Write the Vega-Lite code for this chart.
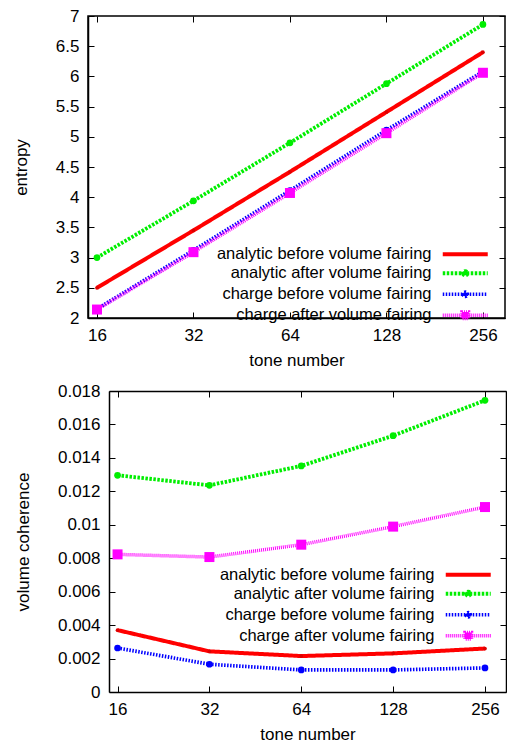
{
  "$schema": "https://vega.github.io/schema/vega-lite/v6.json",
  "padding": {"left": 11, "top": 6, "right": 0, "bottom": 0},
  "background": "white",
  "spacing": 13,
  "config": {
    "font": "Liberation Sans",
    "view": {"stroke": "#000", "strokeWidth": 1.5},
    "axis": {"grid": false, "labelFontSize": 17, "titleFontSize": 17, "titleFontWeight": "normal", "labelColor": "#000", "titleColor": "#000", "domainColor": "#000", "domainWidth": 1.5, "tickColor": "#000", "tickWidth": 1, "tickSize": -6, "labelPadding": 15, "labelFlush": false, "labelOverlap": false},
    "axisX": {"titlePadding": 9},
    "axisY": {"titlePadding": 25},
    "legend": {"labelFont": "Liberation Sans", "labelFontSize": 16.5, "labelColor": "#000"}
  },
  "datasets": {
    "entropy": [
      {"tone": 16, "series": "analytic before volume fairing", "value": 2.50},
      {"tone": 32, "series": "analytic before volume fairing", "value": 3.45},
      {"tone": 64, "series": "analytic before volume fairing", "value": 4.42},
      {"tone": 128, "series": "analytic before volume fairing", "value": 5.41},
      {"tone": 256, "series": "analytic before volume fairing", "value": 6.40},
      {"tone": 16, "series": "analytic after volume fairing", "value": 3.00},
      {"tone": 32, "series": "analytic after volume fairing", "value": 3.94},
      {"tone": 64, "series": "analytic after volume fairing", "value": 4.90},
      {"tone": 128, "series": "analytic after volume fairing", "value": 5.88},
      {"tone": 256, "series": "analytic after volume fairing", "value": 6.86},
      {"tone": 16, "series": "charge before volume fairing", "value": 2.15},
      {"tone": 32, "series": "charge before volume fairing", "value": 3.12},
      {"tone": 64, "series": "charge before volume fairing", "value": 4.11},
      {"tone": 128, "series": "charge before volume fairing", "value": 5.11},
      {"tone": 256, "series": "charge before volume fairing", "value": 6.08},
      {"tone": 16, "series": "charge after volume fairing", "value": 2.14},
      {"tone": 32, "series": "charge after volume fairing", "value": 3.09},
      {"tone": 64, "series": "charge after volume fairing", "value": 4.07},
      {"tone": 128, "series": "charge after volume fairing", "value": 5.06},
      {"tone": 256, "series": "charge after volume fairing", "value": 6.06}
    ],
    "coherence": [
      {"tone": 16, "series": "analytic before volume fairing", "value": 0.0037},
      {"tone": 32, "series": "analytic before volume fairing", "value": 0.00243},
      {"tone": 64, "series": "analytic before volume fairing", "value": 0.00215},
      {"tone": 128, "series": "analytic before volume fairing", "value": 0.00231},
      {"tone": 256, "series": "analytic before volume fairing", "value": 0.0026},
      {"tone": 16, "series": "analytic after volume fairing", "value": 0.01296},
      {"tone": 32, "series": "analytic after volume fairing", "value": 0.01236},
      {"tone": 64, "series": "analytic after volume fairing", "value": 0.01352},
      {"tone": 128, "series": "analytic after volume fairing", "value": 0.01533},
      {"tone": 256, "series": "analytic after volume fairing", "value": 0.01744},
      {"tone": 16, "series": "charge before volume fairing", "value": 0.00263},
      {"tone": 32, "series": "charge before volume fairing", "value": 0.00166},
      {"tone": 64, "series": "charge before volume fairing", "value": 0.00132},
      {"tone": 128, "series": "charge before volume fairing", "value": 0.00132},
      {"tone": 256, "series": "charge before volume fairing", "value": 0.00144},
      {"tone": 16, "series": "charge after volume fairing", "value": 0.00823},
      {"tone": 32, "series": "charge after volume fairing", "value": 0.00807},
      {"tone": 64, "series": "charge after volume fairing", "value": 0.00881},
      {"tone": 128, "series": "charge after volume fairing", "value": 0.00989},
      {"tone": 256, "series": "charge after volume fairing", "value": 0.01106}
    ]
  },
  "vconcat": [
    {
      "width": 417,
      "height": 302,
      "data": {"name": "entropy"},
      "layer": [
        {
          "mark": {"type": "line"},
          "encoding": {
            "x": {"field": "tone", "type": "quantitative", "scale": {"type": "log", "base": 2, "domain": [15, 300], "nice": false}, "axis": {"values": [16, 32, 64, 128, 256], "format": "d", "title": "tone number"}},
            "y": {"field": "value", "type": "quantitative", "scale": {"domain": [2, 7], "nice": false, "zero": false}, "axis": {"values": [2, 2.5, 3, 3.5, 4, 4.5, 5, 5.5, 6, 6.5, 7], "format": "~g", "title": "entropy"}},
            "color": {"field": "series", "type": "nominal", "scale": {"domain": ["analytic before volume fairing", "analytic after volume fairing", "charge before volume fairing", "charge after volume fairing"], "range": ["#ff0000", "#00ee00", "#0000ff", "#ff00ff"]},
              "legend": {"orient": "none", "legendX": 369, "legendY": 230, "title": null, "symbolType": "M-3.75,0H3.75", "symbolSize": 144, "symbolStrokeWidth": 3.5, "labelAlign": "right", "labelOffset": -42, "rowPadding": 0, "padding": 0, "labelLimit": 400,
                "encode": {"symbols": {"update": {
                  "shape": {"signal": "datum.label === 'analytic before volume fairing' ? 'M-3.75,0H3.75' : datum.label === 'charge after volume fairing' ? 'M-3.75,0H3.75M-0.55,-0.55H0.55V0.55H-0.55Z' : 'M-3.75,0H3.75M-0.35,0A0.35,0.35 0 1,0 0.35,0A0.35,0.35 0 1,0 -0.35,0Z'"},
                  "fill": {"signal": "datum.label === 'analytic after volume fairing' ? '#00ee00' : datum.label === 'charge before volume fairing' ? '#0000ff' : datum.label === 'charge after volume fairing' ? '#ff00ff' : 'transparent'"}
                }}}}},
            "strokeDash": {"field": "series", "type": "nominal", "scale": {"domain": ["analytic before volume fairing", "analytic after volume fairing", "charge before volume fairing", "charge after volume fairing"], "range": [[1, 0], [2.5, 1.5], [1.5, 1.5], [1, 1]]},
              "legend": {"orient": "none", "legendX": 369, "legendY": 230, "title": null, "symbolType": "M-3.75,0H3.75", "symbolSize": 144, "symbolStrokeWidth": 3.5, "labelAlign": "right", "labelOffset": -42, "rowPadding": 0, "padding": 0, "labelLimit": 400,
                "encode": {"symbols": {"update": {
                  "shape": {"signal": "datum.label === 'analytic before volume fairing' ? 'M-3.75,0H3.75' : datum.label === 'charge after volume fairing' ? 'M-3.75,0H3.75M-0.55,-0.55H0.55V0.55H-0.55Z' : 'M-3.75,0H3.75M-0.35,0A0.35,0.35 0 1,0 0.35,0A0.35,0.35 0 1,0 -0.35,0Z'"},
                  "fill": {"signal": "datum.label === 'analytic after volume fairing' ? '#00ee00' : datum.label === 'charge before volume fairing' ? '#0000ff' : datum.label === 'charge after volume fairing' ? '#ff00ff' : 'transparent'"}
                }}}}},
            "strokeWidth": {"field": "series", "type": "ordinal", "scale": {"domain": ["analytic before volume fairing", "analytic after volume fairing", "charge before volume fairing", "charge after volume fairing"], "range": [4, 3.5, 3, 3]}, "legend": null}
          }
        },
        {
          "transform": [{"filter": {"field": "series", "equal": "analytic before volume fairing"}}],
          "mark": {"type": "circle", "color": "#dd0000", "size": 14, "opacity": 1},
          "encoding": {
            "x": {"field": "tone", "type": "quantitative", "axis": {"orient": "top", "values": [16, 32, 64, 128, 256], "labels": false, "title": null, "domain": false}},
            "y": {"field": "value", "type": "quantitative", "axis": {"orient": "right", "values": [2, 2.5, 3, 3.5, 4, 4.5, 5, 5.5, 6, 6.5, 7], "labels": false, "title": null, "domain": false}}
          }
        },
        {
          "transform": [{"filter": {"field": "series", "equal": "analytic after volume fairing"}}],
          "mark": {"type": "circle", "color": "#00ee00", "size": 45, "opacity": 1},
          "encoding": {
            "x": {"field": "tone", "type": "quantitative", "axis": null},
            "y": {"field": "value", "type": "quantitative", "axis": null}
          }
        },
        {
          "transform": [{"filter": {"field": "series", "equal": "charge before volume fairing"}}],
          "mark": {"type": "circle", "color": "#0000ff", "size": 45, "opacity": 1},
          "encoding": {
            "x": {"field": "tone", "type": "quantitative", "axis": null},
            "y": {"field": "value", "type": "quantitative", "axis": null}
          }
        },
        {
          "transform": [{"filter": {"field": "series", "equal": "charge after volume fairing"}}],
          "mark": {"type": "square", "color": "#ff00ff", "size": 100, "opacity": 1},
          "encoding": {
            "x": {"field": "tone", "type": "quantitative", "axis": null},
            "y": {"field": "value", "type": "quantitative", "axis": null}
          }
        }
      ],
      "resolve": {"axis": {"x": "independent", "y": "independent"}}
    },
    {
      "width": 418,
      "height": 301,
      "view": {"stroke": null},
      "data": {"name": "coherence"},
      "layer": [
        {
          "mark": {"type": "line"},
          "encoding": {
            "x": {"field": "tone", "type": "quantitative", "scale": {"type": "log", "base": 2, "domain": [15, 300], "nice": false, "range": [21, 418]}, "axis": {"values": [16, 32, 64, 128, 256], "format": "d", "title": "tone number"}},
            "y": {"field": "value", "type": "quantitative", "scale": {"domain": [0, 0.018], "nice": false}, "axis": {"values": [0, 0.002, 0.004, 0.006, 0.008, 0.01, 0.012, 0.014, 0.016, 0.018], "format": "~g", "title": "volume coherence", "offset": -21}},
            "color": {"field": "series", "type": "nominal", "scale": {"domain": ["analytic before volume fairing", "analytic after volume fairing", "charge before volume fairing", "charge after volume fairing"], "range": ["#ff0000", "#00ee00", "#0000ff", "#ff00ff"]},
              "legend": {"orient": "none", "legendX": 372, "legendY": 175.5, "title": null, "symbolType": "M-3.75,0H3.75", "symbolSize": 144, "symbolStrokeWidth": 3.5, "labelAlign": "right", "labelOffset": -42, "rowPadding": 0, "padding": 0, "labelLimit": 400,
                "encode": {"symbols": {"update": {
                  "shape": {"signal": "datum.label === 'analytic before volume fairing' ? 'M-3.75,0H3.75' : datum.label === 'charge after volume fairing' ? 'M-3.75,0H3.75M-0.55,-0.55H0.55V0.55H-0.55Z' : 'M-3.75,0H3.75M-0.35,0A0.35,0.35 0 1,0 0.35,0A0.35,0.35 0 1,0 -0.35,0Z'"},
                  "fill": {"signal": "datum.label === 'analytic after volume fairing' ? '#00ee00' : datum.label === 'charge before volume fairing' ? '#0000ff' : datum.label === 'charge after volume fairing' ? '#ff00ff' : 'transparent'"}
                }}}}},
            "strokeDash": {"field": "series", "type": "nominal", "scale": {"domain": ["analytic before volume fairing", "analytic after volume fairing", "charge before volume fairing", "charge after volume fairing"], "range": [[1, 0], [2.5, 1.5], [1.5, 1.5], [1, 1]]},
              "legend": {"orient": "none", "legendX": 372, "legendY": 175.5, "title": null, "symbolType": "M-3.75,0H3.75", "symbolSize": 144, "symbolStrokeWidth": 3.5, "labelAlign": "right", "labelOffset": -42, "rowPadding": 0, "padding": 0, "labelLimit": 400,
                "encode": {"symbols": {"update": {
                  "shape": {"signal": "datum.label === 'analytic before volume fairing' ? 'M-3.75,0H3.75' : datum.label === 'charge after volume fairing' ? 'M-3.75,0H3.75M-0.55,-0.55H0.55V0.55H-0.55Z' : 'M-3.75,0H3.75M-0.35,0A0.35,0.35 0 1,0 0.35,0A0.35,0.35 0 1,0 -0.35,0Z'"},
                  "fill": {"signal": "datum.label === 'analytic after volume fairing' ? '#00ee00' : datum.label === 'charge before volume fairing' ? '#0000ff' : datum.label === 'charge after volume fairing' ? '#ff00ff' : 'transparent'"}
                }}}}},
            "strokeWidth": {"field": "series", "type": "ordinal", "scale": {"domain": ["analytic before volume fairing", "analytic after volume fairing", "charge before volume fairing", "charge after volume fairing"], "range": [4, 3.5, 3, 3]}, "legend": null}
          }
        },
        {
          "transform": [{"filter": {"field": "series", "equal": "analytic before volume fairing"}}],
          "mark": {"type": "circle", "color": "#dd0000", "size": 14, "opacity": 1},
          "encoding": {
            "x": {"field": "tone", "type": "quantitative", "axis": {"orient": "top", "values": [16, 32, 64, 128, 256], "labels": false, "title": null}},
            "y": {"field": "value", "type": "quantitative", "axis": {"orient": "right", "values": [0, 0.002, 0.004, 0.006, 0.008, 0.01, 0.012, 0.014, 0.016, 0.018], "labels": false, "title": null}}
          }
        },
        {
          "transform": [{"filter": {"field": "series", "equal": "analytic after volume fairing"}}],
          "mark": {"type": "circle", "color": "#00ee00", "size": 45, "opacity": 1},
          "encoding": {
            "x": {"field": "tone", "type": "quantitative", "axis": null},
            "y": {"field": "value", "type": "quantitative", "axis": null}
          }
        },
        {
          "transform": [{"filter": {"field": "series", "equal": "charge before volume fairing"}}],
          "mark": {"type": "circle", "color": "#0000ff", "size": 45, "opacity": 1},
          "encoding": {
            "x": {"field": "tone", "type": "quantitative", "axis": null},
            "y": {"field": "value", "type": "quantitative", "axis": null}
          }
        },
        {
          "transform": [{"filter": {"field": "series", "equal": "charge after volume fairing"}}],
          "mark": {"type": "square", "color": "#ff00ff", "size": 100, "opacity": 1},
          "encoding": {
            "x": {"field": "tone", "type": "quantitative", "axis": null},
            "y": {"field": "value", "type": "quantitative", "axis": null}
          }
        }
      ],
      "resolve": {"axis": {"x": "independent", "y": "independent"}}
    }
  ],
  "resolve": {
    "scale": {"x": "independent", "y": "independent", "color": "independent", "strokeDash": "independent", "strokeWidth": "independent"},
    "legend": {"color": "independent", "strokeDash": "independent"}
  }
}
